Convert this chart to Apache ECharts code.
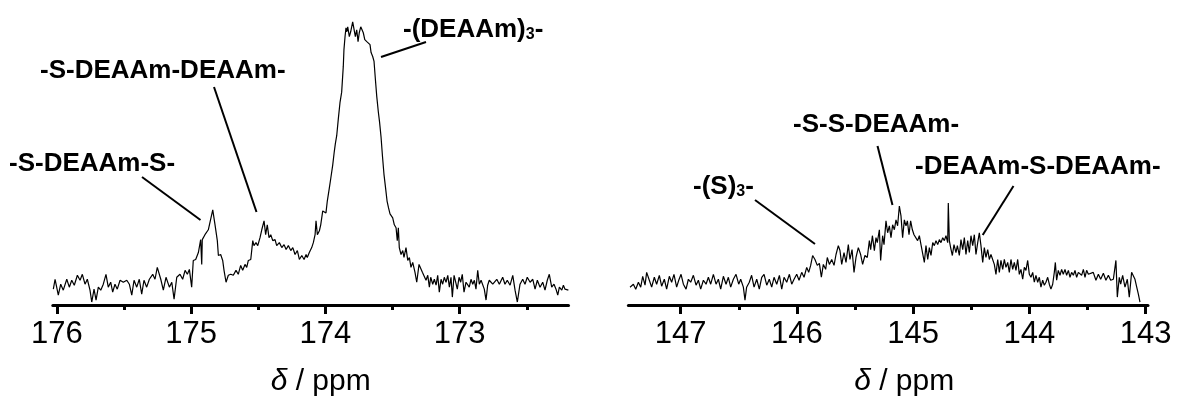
<!DOCTYPE html>
<html>
<head>
<meta charset="utf-8">
<script src="https://cdn.jsdelivr.net/npm/echarts@6/dist/echarts.min.js"></script>
<style>
html,body{margin:0;padding:0;background:#fff;}
#chart{width:1177px;height:402px;}
</style>
</head>
<body>
<div id="chart"></div>
<script>
// ---------- data (13C NMR, chemical shift in ppm / intensity in arbitrary units) ----------
const leftPpm = [
176.026,176.013,175.989,175.971,175.952,175.926,175.907,175.889,175.870,175.847,
175.827,175.810,175.790,175.773,175.753,175.740,175.723,175.708,175.691,175.673,
175.654,175.634,175.617,175.599,175.584,175.567,175.550,175.529,175.505,175.479,
175.460,175.442,175.425,175.405,175.386,175.368,175.351,175.331,175.311,175.286,
175.269,175.252,175.226,175.207,175.187,175.162,175.144,175.127,175.107,175.083,
175.063,175.045,175.028,175.013,174.996,174.984,174.966,174.946,174.929,174.921,
174.917,174.897,174.872,174.859,174.839,174.822,174.805,174.797,174.780,174.765,
174.755,174.740,174.723,174.705,174.686,174.666,174.649,174.631,174.616,174.599,
174.586,174.574,174.556,174.541,174.532,174.517,174.504,174.487,174.474,174.457,
174.445,174.433,174.420,174.407,174.392,174.375,174.363,174.343,174.325,174.308,
174.293,174.276,174.258,174.243,174.226,174.209,174.194,174.176,174.159,174.144,
174.135,174.120,174.102,174.090,174.077,174.070,174.060,174.045,174.035,174.020,
174.010,173.996,173.986,173.971,173.960,173.946,173.934,173.926,173.916,173.904,
173.891,173.879,173.867,173.862,173.854,173.847,173.841,173.834,173.822,173.812,
173.797,173.787,173.777,173.767,173.757,173.748,173.737,173.727,173.718,173.707,
173.692,173.678,173.668,173.660,173.648,173.638,173.628,173.618,173.606,173.597,
173.586,173.575,173.564,173.552,173.541,173.530,173.519,173.508,173.499,173.487,
173.474,173.465,173.457,173.450,173.437,173.424,173.415,173.400,173.387,173.375,
173.363,173.350,173.333,173.320,173.303,173.290,173.278,173.266,173.251,173.238,
173.226,173.216,173.201,173.189,173.176,173.164,173.152,173.139,173.127,173.115,
173.102,173.089,173.077,173.065,173.055,173.042,173.030,173.018,173.005,172.993,
172.981,172.968,172.953,172.940,172.929,172.916,172.903,172.891,172.879,172.866,
172.854,172.841,172.829,172.817,172.804,172.792,172.780,172.767,172.754,172.742,
172.724,172.705,172.680,172.663,172.646,172.625,172.605,172.588,172.571,172.551,
172.531,172.514,172.497,172.476,172.456,172.439,172.422,172.402,172.382,172.365,
172.348,172.333,172.315,172.298,172.283,172.270,172.258,172.240,172.228,172.216,
172.203,172.191];
const leftIntensity = [
16,26,10,21,15,26,18,25,20,30,
25,31,21,26,15,3,16,5,18,15,
21,31,18,23,13,21,16,25,23,25,
21,10,25,18,26,11,25,18,26,31,
26,38,26,15,28,18,23,6,28,31,
26,35,31,36,18,45,46,53,66,41,
66,71,76,75,96,81,65,50,51,45,
35,23,30,31,30,35,31,40,35,41,
38,45,46,65,60,63,60,68,76,85,
71,81,68,71,65,66,60,63,58,61,
56,60,55,58,51,55,46,50,46,51,
48,53,58,63,71,85,71,75,81,95,
96,93,105,118,128,141,155,163,171,188,
205,215,241,258,271,280,276,281,271,276,
286,285,271,278,266,275,281,283,275,268,
266,267,263,255,251,246,228,211,195,185,
170,150,132,118,105,98,92,90,88,81,
78,65,78,58,51,55,48,58,45,48,
38,43,33,23,41,43,33,35,25,30,
18,28,21,26,20,30,13,26,21,28,
23,30,18,28,8,30,23,16,28,23,
31,13,23,25,18,26,21,25,16,35,
21,25,23,16,5,20,25,26,21,23,
26,21,28,21,25,20,30,15,3,21,
26,21,28,23,26,16,25,18,23,15,
25,31,18,21,16,10,18,15,20,16,
18,15];

const rightPpm = [
147.436,147.407,147.387,147.364,147.344,147.327,147.307,147.293,147.270,147.250,
147.227,147.207,147.184,147.164,147.141,147.121,147.098,147.078,147.058,147.035,
147.017,146.997,146.977,146.954,146.934,146.914,146.891,146.868,146.848,146.828,
146.805,146.782,146.762,146.742,146.719,146.696,146.676,146.656,146.633,146.610,
146.590,146.570,146.547,146.524,146.501,146.484,146.461,146.447,146.433,146.410,
146.390,146.369,146.346,146.324,146.303,146.283,146.260,146.238,146.217,146.197,
146.174,146.151,146.131,146.111,146.088,146.065,146.045,146.025,146.002,145.982,
145.959,145.939,145.916,145.899,145.882,145.865,145.845,145.825,145.807,145.790,
145.773,145.753,145.739,145.721,145.701,145.681,145.664,145.644,145.630,145.615,
145.595,145.578,145.558,145.544,145.526,145.509,145.492,145.472,145.452,145.435,
145.415,145.395,145.377,145.366,145.351,145.334,145.320,145.309,145.291,145.280,
145.263,145.251,145.234,145.220,145.205,145.191,145.177,145.162,145.148,145.134,
145.119,145.105,145.091,145.076,145.062,145.050,145.036,145.022,145.007,144.993,
144.979,144.962,144.947,144.933,144.918,144.904,144.890,144.875,144.861,144.847,
144.832,144.818,144.804,144.789,144.775,144.761,144.746,144.732,144.718,144.703,
144.698,144.689,144.678,144.663,144.649,144.632,144.620,144.603,144.589,144.574,
144.560,144.546,144.531,144.517,144.503,144.488,144.474,144.460,144.445,144.431,
144.417,144.402,144.388,144.374,144.359,144.345,144.331,144.316,144.302,144.288,
144.273,144.259,144.245,144.230,144.216,144.202,144.187,144.173,144.159,144.144,
144.130,144.116,144.101,144.087,144.073,144.058,144.044,144.030,144.015,144.001,
143.987,143.972,143.958,143.944,143.929,143.915,143.901,143.886,143.872,143.858,
143.843,143.829,143.815,143.800,143.786,143.777,143.766,143.752,143.737,143.723,
143.709,143.694,143.680,143.665,143.651,143.637,143.622,143.608,143.594,143.579,
143.565,143.551,143.536,143.522,143.508,143.493,
143.451,143.428,143.407,143.387,143.364,143.342,143.321,143.301,143.278,143.256,
143.244,143.227,143.215,143.198,143.178,143.158,143.141,143.121,143.106,143.092,
143.077,143.063,143.049];
const rightIntensity = [
18,21,16,23,18,29,20,33,25,18,
28,21,30,19,26,16,29,23,31,18,
25,31,21,16,26,23,30,20,25,16,
25,21,28,21,31,21,26,16,29,21,
28,18,26,31,21,26,18,5,18,23,
30,18,26,16,28,31,20,26,18,28,
21,30,16,28,23,31,21,26,31,25,
33,28,38,33,40,50,46,40,42,28,
41,36,48,41,46,40,51,60,55,41,
53,43,61,46,56,33,48,58,51,41,
50,48,65,56,70,55,68,63,76,45,
70,61,85,73,80,68,81,76,86,80,
100,90,68,86,80,85,71,85,76,71,
70,65,70,61,63,43,60,46,58,50,
63,60,65,61,66,63,68,65,70,63,
103,65,58,50,61,53,60,50,66,56,
68,51,65,53,70,60,71,51,63,73,
60,43,58,48,56,46,51,53,41,31,
46,33,45,36,46,38,43,33,46,36,
43,35,46,31,36,26,38,35,45,31,
28,33,23,30,23,28,18,25,20,23,
28,21,16,21,33,43,25,35,30,36,
31,36,30,35,28,33,30,35,28,33,
35,30,36,28,35,31,
33,25,31,26,32,25,30,25,26,45,
8,28,21,30,18,26,8,33,35,26,
18,11,3];

const leftMajorTicks = [173, 174, 175, 176];
const leftMinorTicks = [172.5, 173.5, 174.5, 175.5];
const rightMajorTicks = [143, 144, 145, 146, 147];
const rightMinorTicks = [143.5, 144.5, 145.5, 146.5, 147.5];
const axisTitle = '{d|δ} / ppm';
const leftLabels = ['-S-DEAAm-S-', '-S-DEAAm-DEAAm-', '-(DEAAm){s|3}-'];
const rightLabels = ['-(S){s|3}-', '-S-S-DEAAm-', '-DEAAm-S-DEAAm-'];

// ---------- chart ----------
const FONT = '"Liberation Sans", Arial, Helvetica, sans-serif';
const chart = echarts.init(document.getElementById('chart'), null, {renderer: 'canvas'});

function pairs(xs, ys) { return xs.map((x, i) => [x, ys[i]]); }

function majorAxis(grid, min, max, ticks, namePadLeft) {
  return {
    gridIndex: grid, type: 'value', inverse: true, min: min, max: max, position: 'bottom',
    axisLine: {show: true, onZero: false, lineStyle: {color: '#000', width: 3}},
    axisTick: {show: true, inside: false, length: 9, customValues: ticks, lineStyle: {color: '#000', width: 3}},
    axisLabel: {show: true, customValues: ticks, fontSize: 31, color: '#000', margin: 14, fontFamily: FONT},
    splitLine: {show: false},
    name: axisTitle, nameLocation: 'middle', nameGap: 62,
    nameTextStyle: {
      fontSize: 30, color: '#000', fontFamily: FONT, padding: [0, 0, 0, namePadLeft],
      rich: {d: {fontStyle: 'italic', fontSize: 30, color: '#000', fontFamily: FONT}}
    }
  };
}
function minorAxis(grid, min, max, ticks) {
  return {
    gridIndex: grid, type: 'value', inverse: true, min: min, max: max, position: 'bottom',
    axisLine: {show: false, onZero: false},
    axisTick: {show: true, inside: false, length: 5, customValues: ticks, lineStyle: {color: '#000', width: 3}},
    axisLabel: {show: false},
    splitLine: {show: false}
  };
}

const labelFont = 'bold 26px ' + FONT;
const subRich = {s: {font: 'bold 16px ' + FONT, fill: '#000', verticalAlign: 'bottom', padding: [10, 0, 0, 0]}};
function label(text, x, y) {
  return {type: 'text', x: x, y: y, silent: true,
    style: {text: text, font: labelFont, fill: '#000', align: 'left', verticalAlign: 'middle', rich: subRich}};
}
function leader(x1, y1, x2, y2) {
  return {type: 'line', silent: true, shape: {x1: x1, y1: y1, x2: x2, y2: y2},
    style: {stroke: '#000', lineWidth: 2}};
}

const option = {
  animation: false,
  backgroundColor: '#ffffff',
  grid: [
    {left: 52.8, width: 515.7, top: 8, height: 300, containLabel: false},
    {left: 628.4, width: 519.6, top: 8, height: 300, containLabel: false}
  ],
  xAxis: [
    majorAxis(0, 172.19, 176.03, leftMajorTicks, 20),
    minorAxis(0, 172.19, 176.03, leftMinorTicks),
    majorAxis(1, 142.98, 147.45, rightMajorTicks, 32),
    minorAxis(1, 142.98, 147.45, rightMinorTicks)
  ],
  yAxis: [
    {gridIndex: 0, type: 'value', min: 0, max: 300, show: false},
    {gridIndex: 1, type: 'value', min: 0, max: 300, show: false}
  ],
  series: [
    {type: 'line', xAxisIndex: 0, yAxisIndex: 0, data: pairs(leftPpm, leftIntensity),
     symbol: 'none', showSymbol: false, lineStyle: {color: '#000', width: 1.2}, silent: true},
    {type: 'line', xAxisIndex: 2, yAxisIndex: 1, data: pairs(rightPpm, rightIntensity),
     symbol: 'none', showSymbol: false, lineStyle: {color: '#000', width: 1.2}, silent: true}
  ],
  graphic: [
    label(leftLabels[0], 9, 164),
    label(leftLabels[1], 40, 71),
    label(leftLabels[2], 403, 30),
    leader(142, 177, 200.5, 220),
    leader(214, 87, 256.5, 212),
    leader(426, 42, 381, 57),
    label(rightLabels[0], 693, 187),
    label(rightLabels[1], 793, 125),
    label(rightLabels[2], 915, 167),
    leader(755, 200, 815, 244),
    leader(877.5, 146, 892.5, 205),
    leader(1013.5, 186, 982.7, 235)
  ]
};
chart.setOption(option);
</script>
</body>
</html>
